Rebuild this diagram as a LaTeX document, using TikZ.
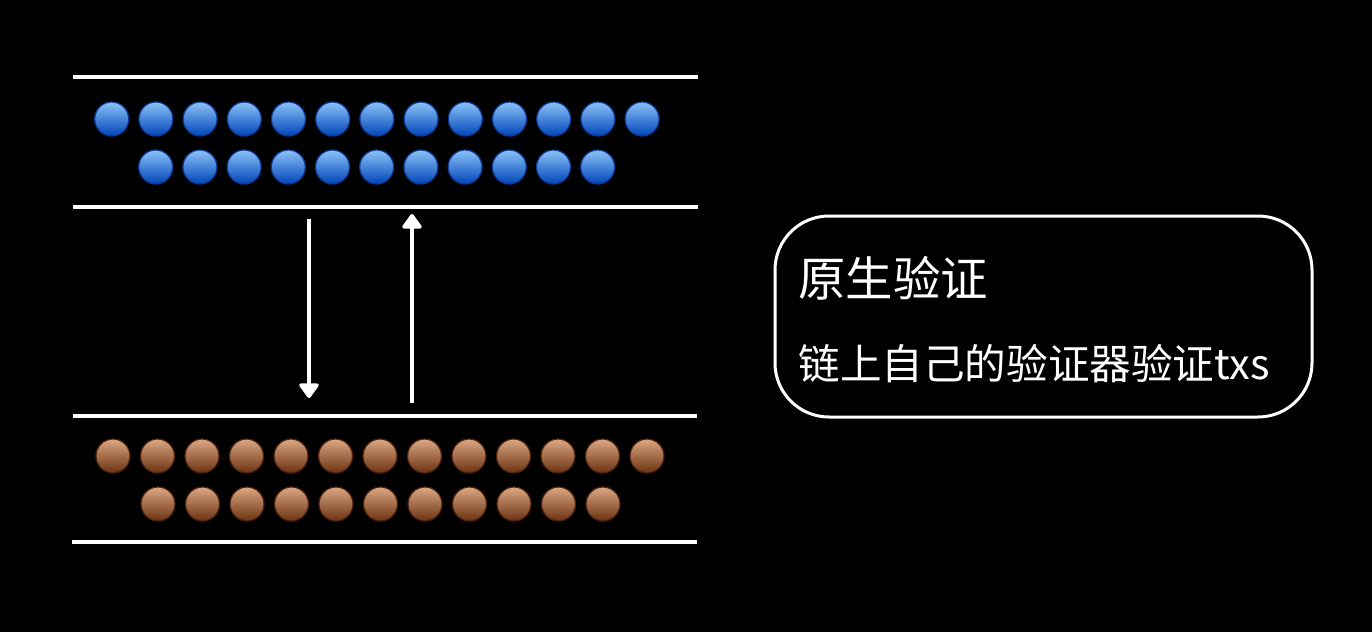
\documentclass[tikz,border=0pt]{standalone}
\usepackage{fontspec}
\newfontfamily\cjk{Noto Sans CJK SC}
\usetikzlibrary{arrows.meta,positioning}
\usetikzlibrary{calc}

\definecolor{bluetop}{HTML}{8CC2F8}
\definecolor{bluemid}{HTML}{0662E2}
\definecolor{bluebot}{HTML}{0044B8}
\definecolor{bluerim}{HTML}{0A3A96}
\definecolor{browntop}{HTML}{DCA884}
\definecolor{brownmid}{HTML}{8A4A20}
\definecolor{brownbot}{HTML}{6A3212}
\definecolor{brownrim}{HTML}{4E220A}

\tikzset{
    lane/.style = {draw=white, line width=1.8pt},
    flow/.style = {draw=white, line width=1.8pt, -{Triangle[width=11pt,length=8pt,round]}},
    blue_ball/.style = {draw=bluerim, line width=0.6pt, top color=bluetop, middle color=bluemid, bottom color=bluebot},
    brown_ball/.style = {draw=brownrim, line width=0.6pt, top color=browntop, middle color=brownmid, bottom color=brownbot},
    info_box/.style = {draw=white, line width=1.5pt, rounded corners=27pt, minimum width=268.5pt, minimum height=100.5pt},
    info_text/.style = {anchor=west, inner sep=0, text=white}
}

\begin{document}
\begin{tikzpicture}[x=0.5pt,y=-0.5pt]

        % background
        \fill[black] (0,0) rectangle (1372,632);
        \useasboundingbox (0,0) rectangle (1372,632);

        % Define center points
        \coordinate (blue_orig) at (111.7,119);
        \coordinate (brown_orig) at (113,456);

        % draw the lanes
        \draw[lane] (73,77) -- (698,77);
        \draw[lane] (73,207) -- (698,207);
        \draw[lane] (73,416) -- (697,416);
        \draw[lane] (72,542) -- (697,542);

        % draw the blue balls
        \foreach \i in {0,...,12}
            \shadedraw[blue_ball] ($(blue_orig) + (\i*44.2,0)$) circle (8.5pt);
        \foreach \i in {0,...,10}
            \shadedraw[blue_ball] ($(blue_orig) + (44+\i*44.2,48)$) circle (8.5pt);

        % draw the brown balls
        \foreach \i in {0,...,12}
            \shadedraw[brown_ball] ($(brown_orig) + (\i*44.5,0)$) circle (8.5pt);
        \foreach \i in {0,...,10}
            \shadedraw[brown_ball] ($(brown_orig) + (45+\i*44.5,48)$) circle (8.5pt);

        % draw the connecting arrows
        \coordinate (down_start) at (309,219);
        \coordinate (down_end) at (309,398);
        \coordinate (up_start) at (412,403);
        \coordinate (up_end) at (412,214);
        \draw[flow] (down_start) -- (down_end);
        \draw[flow] (up_start) -- (up_end);

        % draw the box with its text
        \node[info_box] (info) at (1043.5,316.5) {};
        \node[info_text, font=\cjk\fontsize{23.7pt}{28pt}\selectfont] (info_title) at (798,278) {原生验证};
        \node[info_text, font=\cjk\fontsize{20.8pt}{25pt}\selectfont] (info_detail) at (798,364) {链上自己的验证器验证txs};

\end{tikzpicture}
\end{document}
